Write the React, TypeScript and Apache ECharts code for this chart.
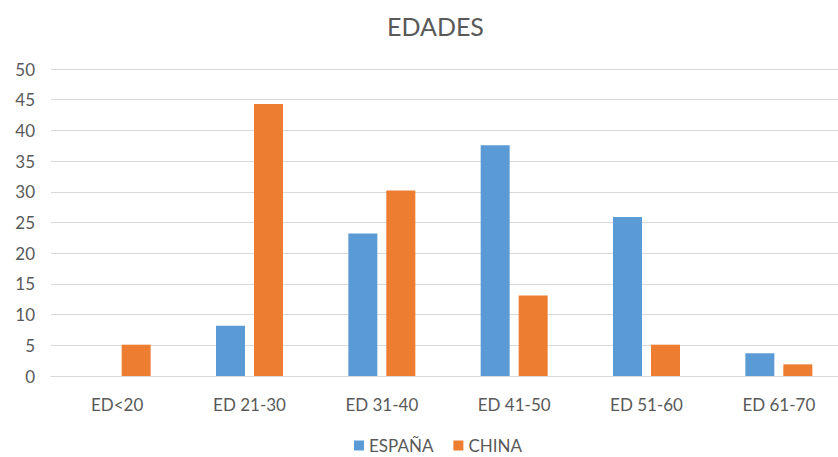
import React, { useEffect, useRef } from "react";
import * as echarts from "echarts";

const categories = ["ED<20", "ED 21-30", "ED 31-40", "ED 41-50", "ED 51-60", "ED 61-70"];
const espana = [0, 8.2, 23.2, 37.6, 25.9, 3.7];
const china = [5.1, 44.3, 30.2, 13.1, 5.1, 1.9];
const seriesNames = ["ESPAÑA", "CHINA"];

const FONT = "Lato, 'Noto Sans', sans-serif";

export default function App() {
  const ref = useRef<HTMLDivElement>(null);
  useEffect(() => {
    if (!ref.current) return;
    const chart = echarts.init(ref.current, undefined, { renderer: "svg" });
    chart.setOption({
      animation: false,
      backgroundColor: "#ffffff",
      title: {
        text: "EDADES",
        left: 382,
        top: 8,
        textStyle: { fontFamily: FONT, fontSize: 25, fontWeight: "normal", color: "#595959" },
      },
      legend: {
        top: 432,
        left: 349,
        itemWidth: 10,
        itemHeight: 10,
        itemGap: 20,
        icon: "rect",
        textStyle: { fontFamily: FONT, fontSize: 17, color: "#595959" },
        data: seriesNames,
      },
      grid: { left: 51, right: 1, top: 69, bottom: 81, containLabel: false },
      xAxis: {
        type: "category",
        data: categories,
        axisLine: { lineStyle: { color: "#D9D9D9" } },
        axisTick: { show: false },
        axisLabel: { fontFamily: FONT, fontSize: 17, color: "#595959", margin: 20 },
      },
      yAxis: {
        type: "value",
        min: 0,
        max: 50,
        interval: 5,
        axisLine: { show: false },
        axisTick: { show: false },
        axisLabel: { fontFamily: FONT, fontSize: 17, color: "#595959", margin: 16 },
        splitLine: { lineStyle: { color: "#D9D9D9", width: 1 } },
      },
      series: [
        {
          name: seriesNames[0],
          type: "bar",
          data: espana,
          barWidth: 29,
          barGap: "31%",
          itemStyle: { color: "#5B9BD5" },
        },
        {
          name: seriesNames[1],
          type: "bar",
          data: china,
          barWidth: 29,
          barGap: "31%",
          itemStyle: { color: "#ED7D31" },
        },
      ],
    });
    return () => chart.dispose();
  }, []);
  return (
    <div
      style={{ position: "fixed", left: 0, top: 0, width: 838, height: 457, overflow: "hidden", background: "#fff" }}
    >
      <div ref={ref} style={{ width: 846, height: 457 }} />
    </div>
  );
}
